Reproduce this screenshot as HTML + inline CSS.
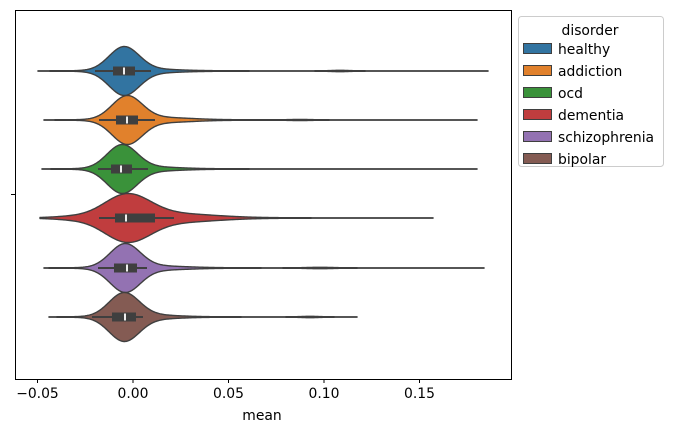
<!DOCTYPE html><html><head><style>body{margin:0;background:#fff}svg{font-family:"DejaVu Sans","Liberation Sans",sans-serif}</style></head><body>
<svg id="s" width="673" height="432" xmlns="http://www.w3.org/2000/svg">
<g id="v"></g>
<rect x="15.5" y="10.5" width="496" height="369" fill="none" stroke="#000" stroke-width="1"/>
<g font-size="13.9" fill="#000" text-anchor="middle">
<line x1="37.5" y1="379" x2="37.5" y2="383" stroke="#000"/><text x="37.5" y="398">−0.05</text>
<line x1="133" y1="379" x2="133" y2="383" stroke="#000"/><text x="133" y="398">0.00</text>
<line x1="228.5" y1="379" x2="228.5" y2="383" stroke="#000"/><text x="228.5" y="398">0.05</text>
<line x1="324" y1="379" x2="324" y2="383" stroke="#000"/><text x="324" y="398">0.10</text>
<line x1="419.5" y1="379" x2="419.5" y2="383" stroke="#000"/><text x="419.5" y="398">0.15</text>
<text x="262" y="420">mean</text>
<line x1="11" y1="194.5" x2="15" y2="194.5" stroke="#000"/>
</g>
<g font-size="13.9">
<rect x="518.5" y="16.5" width="145" height="150" rx="3" fill="#fff" stroke="#ccc"/>
<text x="590" y="35" text-anchor="middle">disorder</text>
</g>
<g id="lg" font-size="13.9"></g>
</svg>
<script>
var V=[
{y:71,c:'#3274a1',mn:38,mx:488,p:124,s:15,t:[[150,28,0.07],[340,8,0.02]],b:[95,151,113,135,124]},
{y:120,c:'#e1812c',mn:44,mx:477,p:127,s:15,t:[[160,30,0.1],[300,10,0.015]],b:[99,155,116,138,127]},
{y:169,c:'#3a923a',mn:42,mx:477,p:122,s:15,t:[[150,28,0.08]],b:[98,148,111,132,121]},
{y:218,c:'#c03d3e',mn:40,mx:433,p:127,s:23,t:[[175,40,0.18],[70,18,0.05]],b:[99,174,115,155,126]},
{y:268,c:'#9372b2',mn:44,mx:484,p:125,s:15,t:[[155,30,0.08],[320,12,0.02]],b:[98,147,114,137,127]},
{y:317,c:'#845b53',mn:49,mx:357,p:124,s:15,t:[[150,26,0.08],[310,8,0.02]],b:[92,143,112,136,125]}];
var g=document.getElementById('v'),h='';
function G(x,m,s){return Math.exp(-0.5*((x-m)/s)*((x-m)/s));}
V.forEach(function(o){var mx=0,ws=[];
for(var x=o.mn;x<=o.mx;x+=1){var d=G(x,o.p,o.s);o.t.forEach(function(t){d+=t[2]*G(x,t[0],t[1]);});d+=0.01;ws.push([x,d]);if(d>mx)mx=d;}
var top=ws.map(function(a){return a[0]+','+(o.y-24.5*a[1]/mx).toFixed(2)}),bot=ws.slice().reverse().map(function(a){return a[0]+','+(o.y+24.5*a[1]/mx).toFixed(2)});
h+='<polygon points="'+top.concat(bot).join(' ')+'" fill="'+o.c+'" stroke="#3f3f3f" stroke-width="1.4" stroke-linejoin="round"/>';
var b=o.b;h+='<line x1="'+b[0]+'" y1="'+o.y+'" x2="'+b[1]+'" y2="'+o.y+'" stroke="#3f3f3f" stroke-width="2"/>';
h+='<rect x="'+b[2]+'" y="'+(o.y-4.5)+'" width="'+(b[3]-b[2])+'" height="9" fill="#3f3f3f"/>';
h+='<rect x="'+(b[4]-1)+'" y="'+(o.y-3.5)+'" width="2" height="7" fill="#eee"/>';});
g.innerHTML=h;
var N=['healthy','addiction','ocd','dementia','schizophrenia','bipolar'],l='';
N.forEach(function(n,i){var y=49+i*22;l+='<rect x="523.5" y="'+(y-5.5)+'" width="28" height="10" fill="'+V[i].c+'" stroke="#3f3f3f"/><text x="558" y="'+(y+5)+'">'+n+'</text>';});
document.getElementById('lg').innerHTML=l;
</script></body></html>
